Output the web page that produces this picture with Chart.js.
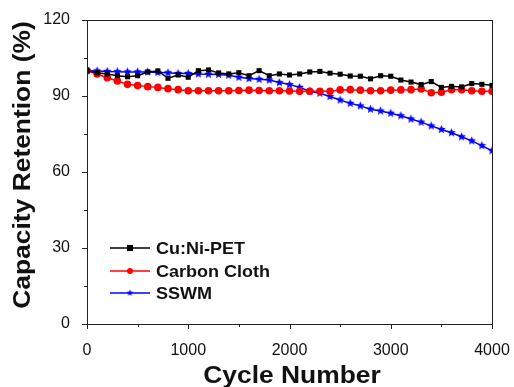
<!DOCTYPE html>
<html>
<head>
<meta charset="utf-8">
<script src="https://cdn.jsdelivr.net/npm/chart.js@4/dist/chart.umd.min.js"></script>
<style>
html,body{margin:0;padding:0;background:#fff;}
#wrap{width:514px;height:387px;position:relative;}
</style>
</head>
<body>
<div id="wrap"><canvas id="c" width="514" height="387"></canvas></div>
<script>
const cycles = [0,100,200,300,400,500,600,700,800,900,1000,1100,1200,1300,1400,1500,1600,1700,1800,1900,2000,2100,2200,2300,2400,2500,2600,2700,2800,2900,3000,3100,3200,3300,3400,3500,3600,3700,3800,3900,4000];
const cuNiPet = [100,99.2,98.7,98.0,97.6,98.0,99.5,99.9,97.0,98.3,97.4,100.0,100.3,99.1,98.7,99.2,98.0,100.0,98.0,98.7,98.3,98.7,99.5,99.7,99.0,98.6,97.9,97.8,96.8,98.0,97.8,96.3,95.5,94.5,95.7,93.4,93.8,93.6,94.9,94.6,94.2];
const carbonCloth = [100,98.7,97.2,95.9,94.6,94.1,93.7,93.4,92.9,92.5,92.1,92.1,92.1,92.1,92.1,92.2,92.3,92.2,92.1,92.1,92.0,91.9,91.9,91.9,91.9,92.4,92.5,92.3,92.1,92.1,92.3,92.4,92.5,92.8,91.3,91.5,92.5,92.5,92.1,91.9,91.9];
const sswm = [100,99.9,99.7,99.6,99.5,99.5,99.5,99.3,99.2,98.9,98.9,98.7,98.6,98.5,98.2,97.4,96.9,96.6,96.3,95.3,94.5,93.4,91.9,91.1,89.8,88.4,87.1,86.1,84.8,84.1,83.2,82.2,80.9,79.7,78.2,76.8,75.5,73.9,72.3,70.4,68.4];
const seriesNames = ["Cu:Ni-PET","Carbon Cloth","SSWM"];
const xTitle = "Cycle Number";
const yTitle = "Capacity Retention (%)";
const yMajorTicks = [0,30,60,90,120];
const yMinorTicks = [15,45,75,105];
const xMajorTicks = [0,1000,2000,3000,4000];
const xMinorTicks = [500,1500,2500,3500];

function starCanvas(r, color){
  const s = Math.ceil(r*2+2);
  const cv = document.createElement('canvas');
  cv.width = s; cv.height = s;
  const g = cv.getContext('2d');
  g.fillStyle = color;
  g.beginPath();
  for(let i=0;i<10;i++){
    const rad = i%2===0 ? r : r*0.45;
    const a = -Math.PI/2 + i*Math.PI/5;
    const x = s/2 + rad*Math.cos(a), y = s/2 + rad*Math.sin(a);
    if(i===0) g.moveTo(x,y); else g.lineTo(x,y);
  }
  g.closePath(); g.fill();
  return cv;
}
const starBig = starCanvas(4.5,'#0000ff');
const starSmall = starCanvas(3.5,'#0000ff');

const FONT = "'Liberation Sans', Arial, sans-serif";
const axisColor = '#222';

function stretchedText(ctx, text, cx, cy, font, stretch, rotate, align){
  ctx.save();
  ctx.translate(cx, cy);
  if(rotate) ctx.rotate(-Math.PI/2);
  ctx.scale(stretch, 1);
  ctx.font = font;
  ctx.fillStyle = '#111';
  ctx.textAlign = align || 'center';
  ctx.textBaseline = 'middle';
  ctx.fillText(text, 0, 0);
  ctx.restore();
}

const framePlugin = {
  id:'frame',
  afterDraw(chart){
    const {ctx, chartArea:a, scales:{x,y}} = chart;
    ctx.save();
    ctx.strokeStyle = axisColor;
    ctx.lineWidth = 1;
    ctx.strokeRect(a.left+0.5, a.top+0.5, a.right-a.left, a.bottom-a.top);
    ctx.beginPath();
    yMajorTicks.forEach(v=>{const p=Math.round(y.getPixelForValue(v))+0.5; ctx.moveTo(a.left-5,p); ctx.lineTo(a.left,p);});
    yMinorTicks.forEach(v=>{const p=Math.round(y.getPixelForValue(v))+0.5; ctx.moveTo(a.left-3,p); ctx.lineTo(a.left,p);});
    xMajorTicks.forEach(v=>{const p=Math.round(x.getPixelForValue(v))+0.5; ctx.moveTo(p,a.bottom); ctx.lineTo(p,a.bottom+5);});
    xMinorTicks.forEach(v=>{const p=Math.round(x.getPixelForValue(v))+0.5; ctx.moveTo(p,a.bottom); ctx.lineTo(p,a.bottom+3);});
    ctx.stroke();
    // legend
    const rows = [248,271,293];
    chart.data.datasets.forEach((ds,i)=>{
      const yy = rows[i];
      ctx.strokeStyle = ds.borderColor; ctx.lineWidth = 1.5;
      ctx.beginPath(); ctx.moveTo(110,yy); ctx.lineTo(150,yy); ctx.stroke();
      ctx.fillStyle = ds.borderColor;
      if(i===0){ ctx.fillRect(127,yy-3,6,6); }
      else if(i===1){ ctx.beginPath(); ctx.arc(130,yy,3,0,Math.PI*2); ctx.fill(); }
      else { ctx.drawImage(starSmall,130-starSmall.width/2,yy-starSmall.height/2); }
      stretchedText(ctx, ds.label, 156, yy+1, "bold 17px " + FONT, 1.06, false, 'left');
    });
    // axis titles
    stretchedText(ctx, xTitle, 292, 376, "bold 24px " + FONT, 1.1, false);
    stretchedText(ctx, yTitle, 23, 165, "bold 24px " + FONT, 1.1, true);
    ctx.restore();
  }
};

function toXY(vals){ return cycles.map((c,i)=>({x:c,y:vals[i]})); }

new Chart(document.getElementById('c'),{
  type:'line',
  data:{
    datasets:[
      {label:seriesNames[0],data:toXY(cuNiPet),borderColor:'#000000',backgroundColor:'#000000',borderWidth:1.5,pointStyle:'rect',pointRadius:3.6,pointBorderWidth:0},
      {label:seriesNames[1],data:toXY(carbonCloth),borderColor:'#ff0000',backgroundColor:'#ff0000',borderWidth:1.5,pointStyle:'circle',pointRadius:3.8,pointBorderWidth:0},
      {label:seriesNames[2],data:toXY(sswm),borderColor:'#0000ff',backgroundColor:'#0000ff',borderWidth:1.5,pointStyle:starBig,pointRadius:4}
    ]
  },
  options:{
    responsive:false,
    animation:false,
    layout:{padding:{left:0,right:22,top:20,bottom:0}},
    plugins:{legend:{display:false},tooltip:{enabled:false}},
    scales:{
      x:{
        type:'linear',min:0,max:4000,
        afterFit(s){ s.height = 63; s.paddingLeft = 0; s.paddingRight = 0; },
        afterBuildTicks(s){ s.ticks = xMajorTicks.map(v=>({value:v})); },
        grid:{display:false},
        border:{display:false},
        ticks:{padding:9,color:'#111',font:{family:FONT,size:16},maxRotation:0,callback:(v)=>String(v)},
        title:{display:false}
      },
      y:{
        min:0,max:120,
        afterFit(s){ s.width = 87; s.paddingTop = 0; s.paddingBottom = 0; },
        afterBuildTicks(s){ s.ticks = yMajorTicks.map(v=>({value:v})); },
        grid:{display:false},
        border:{display:false},
        ticks:{padding:9,color:'#111',font:{family:FONT,size:16},callback:(v)=>String(v)},
        title:{display:false}
      }
    }
  },
  plugins:[framePlugin]
});
</script>
</body>
</html>
